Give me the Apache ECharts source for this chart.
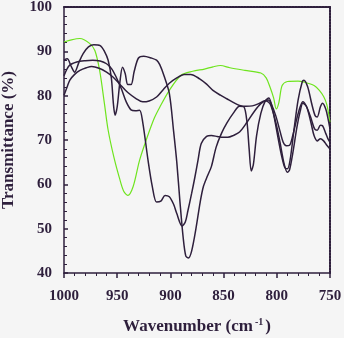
<!DOCTYPE html>
<html>
<head>
<meta charset="utf-8">
<script src="https://cdn.jsdelivr.net/npm/echarts@6/dist/echarts.min.js"></script>
<style>
  html, body { margin: 0; padding: 0; background: #f5f5f5; }
  #container { width: 344px; height: 338px; }
</style>
</head>
<body>
<div id="container"></div>
<script>
// wavenumber (cm-1) / transmittance (%) pairs
const greenCurve = [
    [1000, 92.1], [993, 92.6], [985, 92.9], [976, 91.8], [971, 90.2], [966.5, 85.7],
    [962, 78.2], [958.5, 72.2], [953, 66], [948, 61.5], [944, 58.5], [940, 57.5],
    [935, 59.5], [929, 65.4], [922, 70.5], [915, 75], [910, 77.4], [901, 81.2],
    [890, 84.6], [879, 85.5], [868, 86], [860, 86.5], [853, 86.8], [844, 86.3],
    [830, 85.7], [815, 85.1], [810, 84], [806.5, 82], [803, 79.5], [800.5, 77],
    [798, 78.5], [795, 82.3], [790, 83.2], [780, 83.3], [775, 83.1], [765, 82.3],
    [760, 81.2], [756, 79.8], [753, 78], [750, 74]
];
const darkCurveA = [
    [1000, 88], [997, 88.3], [993, 86.5], [990, 85.3], [986, 87.5], [982, 89.5],
    [977, 91], [972, 91.5], [966, 91.3], [962, 90], [958.5, 88], [955.5, 84],
    [953.5, 78], [952, 75.6], [950, 77.5], [947.5, 83], [945, 86.4], [942.5, 85],
    [940, 82.5], [937, 82.5], [934, 85.5], [930, 88.5], [925, 88.9], [918, 88.5],
    [913, 88], [910, 87], [906, 84.5], [901, 80.5], [897, 72], [894, 65],
    [891, 56], [888, 48], [885.5, 43.8], [883, 43.4], [880, 45], [876, 50],
    [872, 56], [869, 59.5], [865, 62], [861.5, 64], [857, 68.4], [852, 71.5],
    [847, 73.8], [841, 76], [835, 77.6], [831, 77.5], [828, 74], [826, 68],
    [824, 63], [822, 64.5], [819, 71], [815, 76], [811, 78.7], [807.5, 79.5],
    [804, 77], [800, 72], [796, 67], [792.5, 63.8], [790, 63.5], [787.5, 65.5],
    [784, 72], [780, 79], [776, 83.2], [774.5, 83.5], [771, 82], [767, 78],
    [764, 75.5], [762, 75.2], [759, 77.5], [757, 78.3], [754, 77], [752, 75],
    [750, 72.5]
];
const darkCurveB = [
    [1000, 84.5], [995, 86.8], [988, 87.6], [980, 87.9], [973, 88], [966, 87.8],
    [960, 87.2], [955, 86], [951, 84.2], [946, 81.5], [941.5, 78.6], [937, 76.8],
    [933, 76.6], [929, 76.7], [926, 74], [921, 65.4], [917, 59.5], [913, 56],
    [909, 56.2], [905, 57.5], [901, 57.2], [897, 55.5], [894, 53.4], [889, 50.6],
    [886, 51.5], [883.5, 54.1], [880, 58], [877, 61.6], [874, 65.5], [871, 69.2],
    [866, 70.8], [861.5, 71], [856, 70.8], [850.5, 70.6], [846, 70.6], [841, 71],
    [835, 71.8], [828, 74], [821, 76.5], [815, 78.2], [810, 78.8], [806, 78],
    [801, 74], [797, 69.5], [793, 64.5], [790, 62.7], [788, 63.3], [785, 67],
    [781, 73], [778, 76.5], [775.5, 78.3], [772, 77.5], [768, 74], [765, 71],
    [762, 69.8], [759, 70.3], [756, 69.8], [753, 68.8], [750, 68]
];
const darkCurveC = [
    [1000, 80.1], [997, 82], [994.5, 83.5], [990, 84.8], [985, 85.7], [979, 86.3],
    [974, 86.6], [967, 86.2], [960, 85.3], [954, 84.2], [948, 82.7], [940, 80.7],
    [932, 79.3], [926, 78.6], [920, 78.8], [913, 79.7], [907, 81.3], [901, 82.8],
    [894, 84], [887, 84.8], [881, 84.8], [872.5, 83.8], [866, 82.6], [860, 81.2],
    [853, 80.1], [847, 79.3], [841, 78.5], [835, 77.8], [829, 77.6], [823, 77.7],
    [817, 78.2], [812, 78.8], [808, 79], [805, 78], [801, 75.5], [797, 72],
    [794, 69.5], [791, 68.7], [788, 68.8], [785, 71], [781, 75], [778, 77.5],
    [775.5, 78.6], [772, 77.5], [768, 75], [764.5, 72.5], [762, 72.2], [759, 73.3],
    [757, 73.2], [754, 71.5], [752, 70.3], [750, 69.5]
];

const inkColor = '#2e1f3c';
const greenColor = '#6ee41e';
const serif = 'Liberation Serif';

let dom = document.getElementById("container");
let myChart = echarts.init(dom, null, {renderer: 'canvas'});

function curve(data, color, width) {
    return {
        type: 'line',
        data: data,
        smooth: 0.3,
        symbol: 'none',
        lineStyle: {color: color, width: width},
        z: color === greenColor ? 2 : 3
    };
}

let option = {
    backgroundColor: '#f5f5f5',
    animation: false,
    grid: {left: 64, right: 14, top: 7, bottom: 65, outerBoundsMode: 'none', containLabel: false},
    xAxis: [{
        type: 'value',
        min: 750,
        max: 1000,
        interval: 50,
        inverse: true,
        name: '{a|Wavenumber (cm}{s|-1}{a|)}',
        nameLocation: 'middle',
        nameGap: 44,
        nameTextStyle: {
            rich: {
                a: {fontFamily: serif, fontWeight: 'bold', fontSize: 17, color: inkColor},
                s: {fontFamily: serif, fontWeight: 'bold', fontSize: 10, color: inkColor, verticalAlign: 'top', padding: [0, 2, 10, 2]}
            }
        },
        axisLine: {lineStyle: {color: inkColor, width: 1.5}},
        axisTick: {length: 5, lineStyle: {color: inkColor, width: 1.5}},
        minorTick: {show: true, splitNumber: 5, length: 3, lineStyle: {color: inkColor}},
        splitLine: {show: false},
        axisLabel: {
            margin: 16,
            fontFamily: serif,
            fontWeight: 'bold',
            fontSize: 15,
            color: inkColor,
            formatter: function (v) { return String(v); }
        }
    }, {
        type: 'value',
        position: 'top',
        min: 750,
        max: 1000,
        inverse: true,
        axisLine: {lineStyle: {color: inkColor, width: 2, type: [2, 1]}},
        axisTick: {show: false},
        axisLabel: {show: false},
        splitLine: {show: false}
    }],
    yAxis: [{
        type: 'value',
        min: 40,
        max: 100,
        interval: 10,
        name: 'Transmittance (%)',
        nameLocation: 'middle',
        nameGap: 47,
        nameTextStyle: {fontFamily: serif, fontWeight: 'bold', fontSize: 17, color: inkColor},
        axisLine: {show: true, lineStyle: {color: inkColor, width: 1.5}},
        axisTick: {inside: true, length: 4, lineStyle: {color: inkColor, width: 1.5}},
        minorTick: {show: true, splitNumber: 5, length: 3, lineStyle: {color: inkColor}},
        splitLine: {show: false},
        axisLabel: {
            margin: 12,
            fontFamily: serif,
            fontWeight: 'bold',
            fontSize: 15,
            color: inkColor
        }
    }, {
        type: 'value',
        position: 'right',
        min: 40,
        max: 100,
        axisLine: {show: true, lineStyle: {color: inkColor, width: 2, type: [2, 1]}},
        axisTick: {show: false},
        axisLabel: {show: false},
        splitLine: {show: false}
    }],
    series: [
        curve(greenCurve, greenColor, 1.2),
        curve(darkCurveC, inkColor, 1.5),
        curve(darkCurveB, inkColor, 1.5),
        curve(darkCurveA, inkColor, 1.5)
    ]
};

myChart.setOption(option);
</script>
</body>
</html>
